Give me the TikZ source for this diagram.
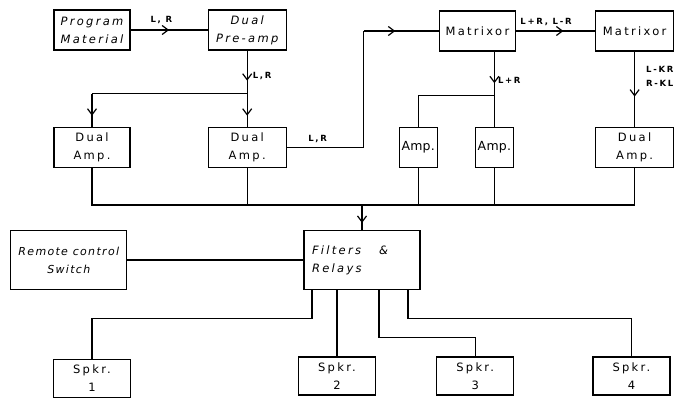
\documentclass[tikz,border=0pt]{standalone}
\usepackage{fontspec}
\setmainfont{DejaVu Sans}[LetterSpace=20]
\newfontfamily\tighthand{DejaVu Sans}[LetterSpace=12]
\newfontfamily\closehand{DejaVu Sans}[LetterSpace=2]
\usetikzlibrary{arrows.meta,positioning,calc,decorations.markings}

\begin{document}
\begin{tikzpicture}[
  x=1pt, y=-1pt,
  font=\fontsize{11.5}{18}\selectfont,
  box/.style={draw, line width=1.2pt, align=center, inner sep=0pt,
              minimum width=78pt, minimum height=40pt},
  ampbox/.style={box, minimum width=38pt, font=\fontsize{12.5}{18}\selectfont\closehand},
  widebox/.style={box, minimum width=116pt, minimum height=59pt},
  spkbox/.style={box, minimum width=77pt, minimum height=38pt},
  hand/.style={font=\fontsize{11.5}{18}\selectfont\itshape},
  wire/.style={line width=1.2pt},
  mid/.style={wire, postaction={decorate},
              decoration={markings, mark=at position #1 with
                {\arrow{Straight Barb[length=6pt,width=9pt,line width=1.2pt]}}}},
  mid/.default=0.5,
  lbl/.style={font=\fontsize{8.5}{14}\selectfont\bfseries, inner sep=2pt}
]
\useasboundingbox (0,0) rectangle (692,397);

% top row
\node[box, hand, minimum width=76pt] (prog) at (92,30) {Program\\Material};
\node[box, hand, right=77pt of prog] (pre) {Dual\\Pre-amp};
\node[box, minimum width=76pt, right=152pt of pre, yshift=-1pt] (mat1) {Matrixor};
\node[box, right=79pt of mat1] (mat2) {Matrixor};

% amplifiers
\node[box, minimum width=76pt, below=76pt of prog] (dual1) {Dual\\Amp.};
\node[box, below=76pt of pre] (dual2) {Dual\\Amp.};
\node[ampbox, below=75pt of mat1, xshift=17pt] (amp2) {Amp.};
\node[ampbox, left=37pt of amp2] (amp1) {Amp.};
\node[box, below=75pt of mat2] (dual3) {Dual\\Amp.};

% control
\node[widebox, hand, text width=100pt, align=left] (filt) at (362,260)
  {Filters\hspace{18pt}\&\\Relays};
\node[widebox, font=\fontsize{11}{18}\selectfont\tighthand\itshape, left=176pt of filt]
  (remote) {Remote control\\Switch};

% speakers
\node[spkbox, below=191pt of dual1] (spk1) {Spkr.\\1};
\node[spkbox] (spk2) at (337,376) {Spkr.\\2};
\node[spkbox, right=60pt of spk2] (spk3) {Spkr.\\3};
\node[spkbox, right=78pt of spk3] (spk4) {Spkr.\\4};

\coordinate[below=43pt of pre.south] (split1);
\coordinate[right=77pt of dual2.east] (turn1);
\coordinate[above=31pt of amp2.north] (split2);
\coordinate[above=25pt of filt.north] (bus);

\draw[mid=0.5] (prog) -- node[lbl, above=4pt, pos=0.4]{L, R} (pre);
\draw[mid=0.7] (pre) -- node[lbl, right=3pt, pos=0.6]{L,R} (split1);
\draw[wire] (split1) -- (split1 -| dual1);
\draw[mid=0.67] (split1 -| dual1) -- (dual1);
\draw[mid=0.67] (split1) -- (dual2);

\draw[wire] (dual2) -- node[lbl, above=2pt, pos=0.4]{L,R} (turn1) -- (turn1 |- mat1);
\draw[mid=0.42] (turn1 |- mat1) -- (mat1);
\draw[mid=0.6] (mat1) -- node[lbl, above=3pt, pos=0.38]{L+R, L-R} (mat2);

\draw[mid=0.72] (mat1.south -| amp2) -- node[lbl, right=1pt, pos=0.65]{L+R} (split2);
\draw[wire] (split2) -- (amp2);
\draw[wire] (split2) -| (amp1);
\draw[mid=0.6] (mat2) -- node[lbl, right=9pt, pos=0.33, align=left]{L-KR\\R-KL} (dual3);

% bus into filters
\draw[wire] (dual1.south) |- (bus) -| (dual3.south);
\draw[wire] (dual2) -- (dual2 |- bus);
\draw[wire] (amp1) -- (amp1 |- bus);
\draw[wire] (amp2) -- (amp2 |- bus);
\draw[mid=0.72] (bus) -- (filt);
\draw[wire] (remote) -- (filt);

% speaker lines
\draw[wire] ([xshift=-50pt]filt.south) -- ++(0,-28pt) -| (spk1);
\draw[wire] (filt.south -| spk2) -- (spk2);
\draw[wire] ([xshift=17pt]filt.south) -- ++(0,-47pt) -| (spk3);
\draw[wire] ([xshift=46pt]filt.south) -- ++(0,-28pt) -| (spk4);
\end{tikzpicture}
\end{document}
